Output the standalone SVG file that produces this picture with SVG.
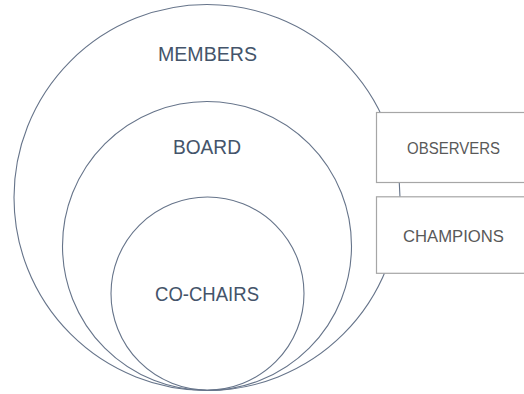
<svg xmlns="http://www.w3.org/2000/svg" width="524" height="394" viewBox="0 0 524 394">
<style>
.ring{fill:none;stroke:#66748a;stroke-width:1.1}
.box{fill:#ffffff;stroke:#a6a6a6;stroke-width:1.2}
.lbl{font-family:"Liberation Sans",Arial,sans-serif;font-size:19.5px;fill:#44546a;text-anchor:middle}
.blbl{font-family:"Liberation Sans",Arial,sans-serif;font-size:16px;fill:#595959;text-anchor:middle}
</style>
<rect width="524" height="394" fill="#ffffff"/>
<g id="members">
<circle class="ring" cx="207" cy="197.5" r="193"/>
<text class="lbl" x="207.5" y="61" textLength="99" lengthAdjust="spacingAndGlyphs">MEMBERS</text>
</g>
<g id="board">
<circle class="ring" cx="207" cy="246" r="144.5"/>
<text class="lbl" x="207" y="154" textLength="68" lengthAdjust="spacingAndGlyphs">BOARD</text>
</g>
<g id="co-chairs">
<circle class="ring" cx="207.5" cy="293.5" r="96.5"/>
<text class="lbl" x="207" y="301" textLength="104" lengthAdjust="spacingAndGlyphs">CO-CHAIRS</text>
</g>
<g id="observers">
<rect class="box" x="376.5" y="112.5" width="160" height="70"/>
<text class="blbl" x="453.5" y="154" textLength="93" lengthAdjust="spacingAndGlyphs">OBSERVERS</text>
</g>
<g id="champions">
<rect class="box" x="376.5" y="196.8" width="160" height="76.5"/>
<text class="blbl" x="453.5" y="241.5" textLength="101" lengthAdjust="spacingAndGlyphs">CHAMPIONS</text>
</g>
<g id="connectors"></g>
</svg>
